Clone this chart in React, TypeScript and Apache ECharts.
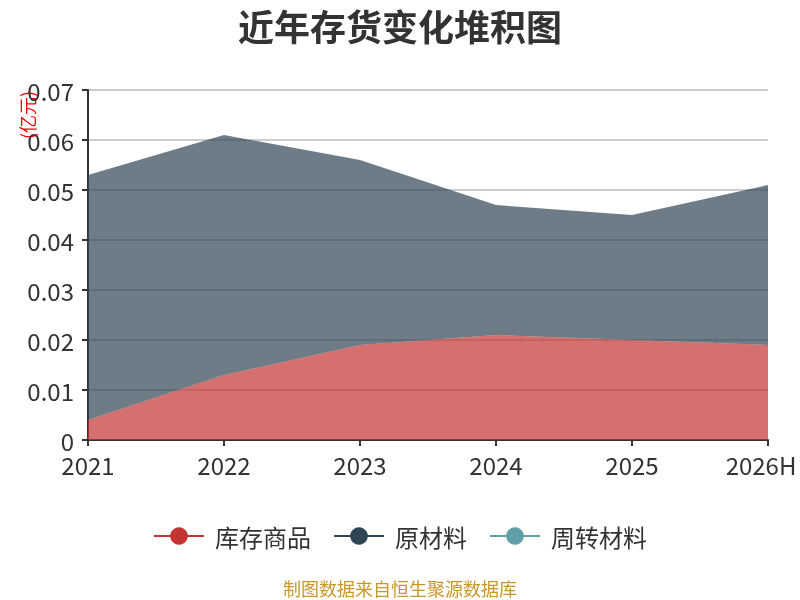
import { useEffect, useRef } from "react";
import * as echarts from "echarts";

const years = ["2021", "2022", "2023", "2024", "2025", "2026H"];
const goodsValues = [0.004, 0.013, 0.019, 0.021, 0.02, 0.019];
const materialValues = [0.049, 0.048, 0.037, 0.026, 0.025, 0.032];
const turnoverValues = [0, 0, 0, 0, 0, 0];
const seriesNames = ["库存商品", "原材料", "周转材料"];
const colors = ["#c23531", "#2f4554", "#61a0a8"];

const FONT = "'Noto Sans CJK SC', 'Noto Sans', sans-serif";

export default function App() {
  const chartRef = useRef<HTMLDivElement>(null);

  useEffect(() => {
    if (!chartRef.current) return;
    const chart = echarts.init(chartRef.current, null, { renderer: "svg" });

    const makeSeries = (name: string, data: number[], color: string) => ({
      name,
      type: "line" as const,
      stack: "total",
      data,
      symbol: "circle",
      symbolSize: 8,
      showSymbol: false,
      lineStyle: { width: 0, color },
      itemStyle: { color },
      areaStyle: { color, opacity: 0.7 },
    });

    const option: echarts.EChartsOption = {
      animation: false,
      textStyle: { fontFamily: FONT },
      title: [
        {
          text: "近年存货变化堆积图",
          left: "center",
          top: 2,
          textStyle: { fontSize: 36, fontWeight: "bold", color: "#333", fontFamily: FONT },
        },
        {
          text: "制图数据来自恒生聚源数据库",
          left: "center",
          top: 574,
          textStyle: { fontSize: 18, fontWeight: "normal", color: "#c9962a", fontFamily: FONT },
        },
      ],
      legend: {
        data: seriesNames,
        top: 519,
        left: "center",
        itemWidth: 50,
        itemHeight: 22,
        itemGap: 22,
        lineStyle: { width: 2 },
        textStyle: { fontSize: 24, color: "#333", fontFamily: FONT, padding: [0, 0, 0, 6] },
      },
      grid: {
        left: 88,
        right: 32,
        top: 90,
        bottom: 160,
        containLabel: false,
        outerBoundsMode: "none",
      } as any,
      xAxis: {
        type: "category",
        boundaryGap: false,
        data: years,
        axisLine: { lineStyle: { color: "#333", width: 2 } },
        axisTick: { show: true, interval: 0, lineStyle: { color: "#333", width: 2 }, length: 6 },
        axisLabel: {
          interval: 0,
          fontSize: 24,
          lineHeight: 22,
          color: "#333",
          margin: 13,
          formatter: (v: string) => (v === years[years.length - 1] ? `{last|${v}}` : v),
          rich: { last: { fontSize: 24, lineHeight: 22, color: "#333", padding: [0, 14, 0, 0] } },
        },
      },
      yAxis: {
        type: "value",
        min: 0,
        max: 0.07,
        interval: 0.01,
        axisLine: { show: true, lineStyle: { color: "#333", width: 2 } },
        axisTick: { show: true, lineStyle: { color: "#333", width: 2 }, length: 6 },
        axisLabel: { fontSize: 24, lineHeight: 18, color: "#333", margin: 14 },
        splitLine: { lineStyle: { color: "#ccc", width: 2 } },
      },
      graphic: [
        {
          type: "text",
          x: 27,
          y: 115,
          rotation: Math.PI / 2,
          style: {
            text: "(亿元)",
            fill: "#ff0000",
            fontSize: 18,
            fontFamily: FONT,
            textAlign: "center",
            textVerticalAlign: "middle",
          },
        },
      ],
      series: [
        makeSeries(seriesNames[0], goodsValues, colors[0]),
        makeSeries(seriesNames[1], materialValues, colors[1]),
        makeSeries(seriesNames[2], turnoverValues, colors[2]),
      ],
    };

    chart.setOption(option);
    return () => chart.dispose();
  }, []);

  return (
    <div
      ref={chartRef}
      style={{ position: "fixed", left: 0, top: 0, width: 800, height: 600 }}
    />
  );
}
